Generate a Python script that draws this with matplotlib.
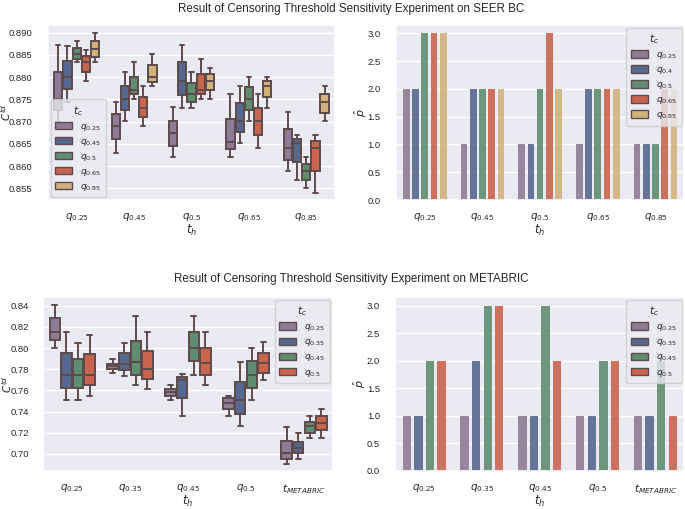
import numpy as np
import matplotlib
matplotlib.use("Agg")
import matplotlib.pyplot as plt
import seaborn as sns
from matplotlib.patches import Patch

sns.set_theme(style="darkgrid")
plt.rcParams['font.family'] = ['Liberation Sans', 'DejaVu Sans']

colors = ["#8E7B95", "#56688F", "#5F8D6F", "#C9654F", "#D2B27A"]
edge = "#5E4B4B"

# ---- SEER BC: C^td box statistics [t_h group][t_c hue]
seer_groups = ["$q_{0.25}$", "$q_{0.45}$", "$q_{0.5}$", "$q_{0.65}$", "$q_{0.85}$"]
seer_box_hues = ["$q_{0.25}$", "$q_{0.45}$", "$q_{0.5}$", "$q_{0.65}$", "$q_{0.85}$"]
seer_hi = [[0.8872, 0.8870, 0.8882, 0.8861, 0.8900],
           [0.8743, 0.8812, 0.8833, 0.8780, 0.8852],
           [0.8732, 0.8872, 0.8812, 0.8841, 0.8821],
           [0.8761, 0.8781, 0.8801, 0.8761, 0.8801],
           [0.8722, 0.8670, 0.8621, 0.8670, 0.8780]]
seer_q3 = [[0.8812, 0.8836, 0.8866, 0.8848, 0.8881],
           [0.8716, 0.8780, 0.8801, 0.8756, 0.8827],
           [0.8702, 0.8833, 0.8786, 0.8807, 0.8807],
           [0.8707, 0.8741, 0.8777, 0.8731, 0.8792],
           [0.8683, 0.8662, 0.8605, 0.8656, 0.8761]]
seer_med = [[0.8751, 0.8801, 0.8852, 0.8833, 0.8863],
            [0.8691, 0.8751, 0.8771, 0.8731, 0.8800],
            [0.8674, 0.8792, 0.8762, 0.8771, 0.8792],
            [0.8655, 0.8702, 0.8751, 0.8702, 0.8781],
            [0.8641, 0.8651, 0.8590, 0.8641, 0.8745]]
seer_q1 = [[0.8726, 0.8773, 0.8840, 0.8812, 0.8846],
           [0.8661, 0.8725, 0.8762, 0.8710, 0.8790],
           [0.8646, 0.8760, 0.8745, 0.8762, 0.8771],
           [0.8638, 0.8676, 0.8726, 0.8670, 0.8756],
           [0.8614, 0.8610, 0.8570, 0.8590, 0.8720]]
seer_lo = [[0.8700, 0.8743, 0.8833, 0.8791, 0.8833],
           [0.8630, 0.8702, 0.8751, 0.8691, 0.8780],
           [0.8621, 0.8731, 0.8731, 0.8751, 0.8751],
           [0.8621, 0.8651, 0.8702, 0.8641, 0.8731],
           [0.8590, 0.8570, 0.8550, 0.8540, 0.8702]]

# ---- SEER BC: p-hat bars
seer_bar_hues = ["$q_{0.25}$", "$q_{0.4}$", "$q_{0.5}$", "$q_{0.65}$", "$q_{0.85}$"]
seer_p = [[2, 2, 3, 3, 3],
          [1, 2, 2, 2, 2],
          [1, 1, 2, 3, 2],
          [1, 2, 2, 2, 2],
          [1, 1, 1, 2, 2]]

# ---- METABRIC: C^td box statistics
met_groups = ["$q_{0.25}$", "$q_{0.35}$", "$q_{0.45}$", "$q_{0.5}$", "$t_{METABRIC}$"]
met_hues = ["$q_{0.25}$", "$q_{0.35}$", "$q_{0.45}$", "$q_{0.5}$"]
met_hi = [[0.8406, 0.8153, 0.8051, 0.8122],
          [0.7896, 0.8051, 0.8307, 0.8153],
          [0.7649, 0.7751, 0.8307, 0.8153],
          [0.7547, 0.7865, 0.7998, 0.8057],
          [0.7256, 0.7195, 0.7361, 0.7423]]
met_q3 = [[0.8283, 0.7958, 0.7896, 0.7943],
          [0.7850, 0.7958, 0.8072, 0.7973],
          [0.7618, 0.7726, 0.8153, 0.7998],
          [0.7525, 0.7683, 0.7881, 0.7952],
          [0.7123, 0.7117, 0.7303, 0.7361]]
met_med = [[0.8153, 0.7748, 0.7748, 0.7748],
           [0.7828, 0.7850, 0.7865, 0.7803],
           [0.7587, 0.7700, 0.7998, 0.7856],
           [0.7479, 0.7507, 0.7748, 0.7856],
           [0.7012, 0.7055, 0.7263, 0.7293]]
met_q1 = [[0.8075, 0.7627, 0.7627, 0.7649],
          [0.7803, 0.7797, 0.7748, 0.7704],
          [0.7550, 0.7531, 0.7881, 0.7748],
          [0.7426, 0.7377, 0.7627, 0.7766],
          [0.6953, 0.7006, 0.7200, 0.7222]]
met_lo = [[0.7998, 0.7510, 0.7510, 0.7550],
          [0.7766, 0.7735, 0.7649, 0.7609],
          [0.7510, 0.7361, 0.7748, 0.7649],
          [0.7361, 0.7265, 0.7510, 0.7695],
          [0.6900, 0.6953, 0.7148, 0.7148]]

# ---- METABRIC: p-hat bars
met_p = [[1, 1, 2, 2],
         [1, 2, 3, 3],
         [1, 1, 3, 2],
         [1, 1, 2, 2],
         [1, 1, 2, 1]]


def box_panel(ax, groups, hues, lo, q1, med, q3, hi, xpad):
    n = len(hues)
    slot = 0.8 / n
    for h in range(n):
        stats = []
        for g in range(len(groups)):
            stats.append(dict(whislo=lo[g][h], q1=q1[g][h], med=med[g][h],
                              q3=q3[g][h], whishi=hi[g][h]))
        pos = np.arange(len(groups)) - 0.4 + slot * (h + 0.5)
        ax.bxp(stats, positions=pos, widths=slot * 0.9, showfliers=False,
               patch_artist=True, manage_ticks=False,
               boxprops=dict(facecolor=colors[h], edgecolor=edge, linewidth=1.4),
               medianprops=dict(color=edge, linewidth=1.4),
               whiskerprops=dict(color=edge, linewidth=1.4),
               capprops=dict(color=edge, linewidth=1.4))
    ax.set_xticks(np.arange(len(groups)))
    ax.set_xticklabels(groups)
    ax.set_xlim(-0.5, len(groups) - 0.5)
    ax.set_ylabel("$C^{td}$", fontsize=7.5)
    ax.set_xlabel("$t_h$", fontsize=8.5, labelpad=xpad)


def bar_panel(ax, groups, hues, vals, xpad):
    n = len(hues)
    slot = 0.8 / n
    x = np.arange(len(groups))
    for h in range(n):
        ax.bar(x - 0.4 + slot * (h + 0.5), [v[h] for v in vals],
               width=slot * 0.72, color=colors[h], alpha=0.9,
               edgecolor="none", label=hues[h])
    ax.set_xticks(x)
    ax.set_xticklabels(groups)
    ax.set_xlim(-0.5, len(groups) - 0.5)
    ax.set_ylim(0, 3.15)
    ax.set_yticks(np.arange(0, 3.01, 0.5))
    ax.set_ylabel(r"$\hat{p}$", fontsize=8)
    ax.set_xlabel("$t_h$", fontsize=8.5, labelpad=xpad)


def legend(ax, hues, loc):
    handles = [Patch(facecolor=colors[i], edgecolor=edge, linewidth=1.0)
               for i in range(len(hues))]
    leg = ax.legend(handles, hues, title="$t_c$", loc=loc, fontsize=6.5,
                    title_fontsize=7.5, handlelength=1.9, handleheight=0.9,
                    handletextpad=0.9, labelspacing=0.45, borderpad=0.5,
                    borderaxespad=0.3, framealpha=0.8)
    return leg


fig = plt.figure(figsize=(6.85, 5.09), dpi=100)
ax1 = fig.add_axes([0.070, 0.607, 0.419, 0.344])
ax2 = fig.add_axes([0.578, 0.607, 0.421, 0.344])
ax3 = fig.add_axes([0.063, 0.075, 0.423, 0.341])
ax4 = fig.add_axes([0.577, 0.075, 0.422, 0.341])

box_panel(ax1, seer_groups, seer_box_hues, seer_lo, seer_q1, seer_med, seer_q3, seer_hi, 0)
ax1.set_ylim(0.8524, 0.8917)
ax1.set_yticks(np.arange(0.855, 0.8901, 0.005))
ax1.set_yticklabels([f"{v:.3f}" for v in np.arange(0.855, 0.8901, 0.005)])
legend(ax1, seer_box_hues, "lower left")

bar_panel(ax2, seer_groups, seer_bar_hues, seer_p, 0)
legend(ax2, seer_bar_hues, "upper right")

box_panel(ax3, met_groups, met_hues, met_lo, met_q1, met_med, met_q3, met_hi, -1)
ax3.set_ylim(0.684, 0.8481)
ax3.set_yticks(np.arange(0.70, 0.841, 0.02))
ax3.set_yticklabels([f"{v:.2f}" for v in np.arange(0.70, 0.841, 0.02)])
legend(ax3, met_hues, "upper right")

bar_panel(ax4, met_groups, met_hues, met_p, -1)
legend(ax4, met_hues, "upper right")

for ax in (ax1, ax2, ax3, ax4):
    ax.grid(axis="x", visible=False)
    ax.tick_params(axis="y", labelsize=6.8, pad=5)
    ax.tick_params(axis="x", labelsize=7.5, pad=2)
ax3.tick_params(axis="y", pad=4)

ax1.yaxis.set_label_coords(-0.122, 0.5)
ax3.yaxis.set_label_coords(-0.1, 0.5)
ax2.yaxis.set_label_coords(-0.095, 0.5)
ax4.yaxis.set_label_coords(-0.095, 0.5)

fig.text(0.513, 0.995, "Result of Censoring Threshold Sensitivity Experiment on SEER BC",
         ha="center", va="top", fontsize=8.4)
fig.text(0.513, 0.464, "Result of Censoring Threshold Sensitivity Experiment on METABRIC",
         ha="center", va="top", fontsize=8.4)

fig.savefig("out.png", dpi=100)
